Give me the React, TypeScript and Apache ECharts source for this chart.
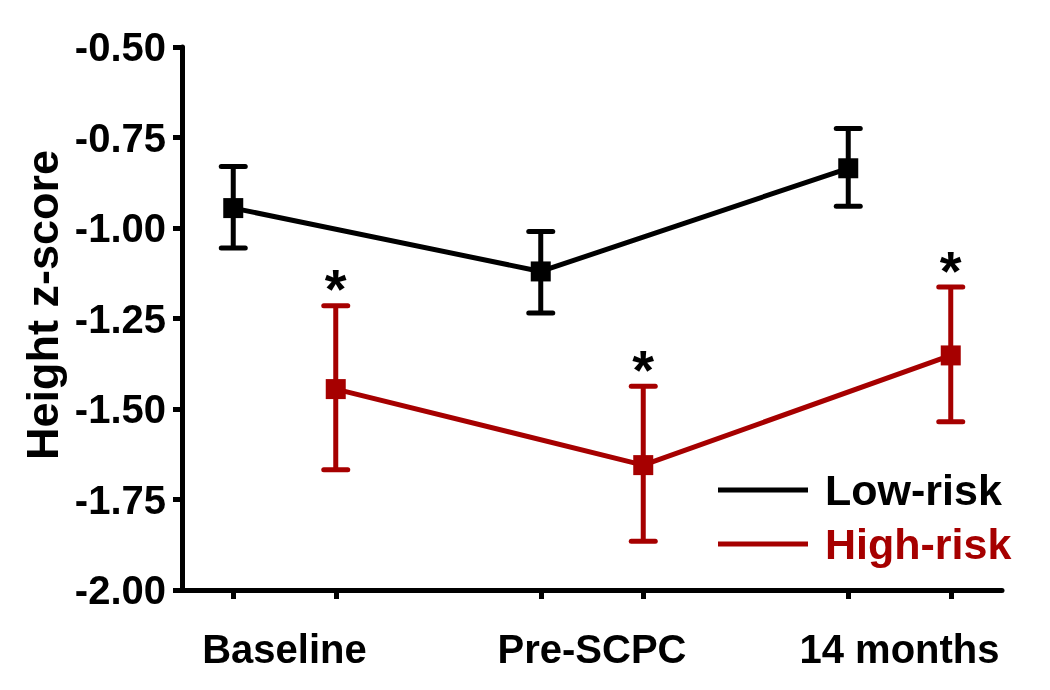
import React, { useEffect, useRef } from "react";
import * as echarts from "echarts";

const timepoints = ["Baseline", "Pre-SCPC", "14 months"];
const lowRiskMean = [-0.945, -1.12, -0.835];
const lowRiskUpper = [-0.83, -1.01, -0.725];
const lowRiskLower = [-1.055, -1.235, -0.94];
const highRiskMean = [-1.445, -1.655, -1.352];
const highRiskUpper = [-1.215, -1.437, -1.163];
const highRiskLower = [-1.668, -1.865, -1.535];
const highRiskSignificant = [true, true, true];
const yTicks = { min: -2.0, max: -0.5, interval: 0.25 };

const FONT = "'Liberation Sans', Arial, sans-serif";
const BLACK = "#000000";
const RED = "#A60000";

export default function App() {
  const ref = useRef<HTMLDivElement>(null);
  useEffect(() => {
    if (!ref.current) return;
    const chart = echarts.init(ref.current, null, { renderer: "svg" });
    const step = 3; // spacing between timepoints on the x scale
    const lowX = timepoints.map((_, i) => i * step);
    const highX = timepoints.map((_, i) => i * step + 1);
    const lowData = lowX.map((x, i) => [x, lowRiskMean[i]]);
    const highData = highX.map((x, i) => [x, highRiskMean[i]]);
    const lowErr = lowX.map((x, i) => [x, lowRiskLower[i], lowRiskUpper[i]]);
    const highErr = highX.map((x, i) => [x, highRiskLower[i], highRiskUpper[i]]);
    const stars = highX
      .map((x, i) => (highRiskSignificant[i] ? [x, highRiskUpper[i]] : null))
      .filter(Boolean);
    const labelPos = timepoints.map((_, i) => i * step + 0.5);
    const tickPos: number[] = [];
    timepoints.forEach((_, i) => tickPos.push(i * step, i * step + 1));

    const errRender = (color: string) => (params: any, api: any) => {
      const x = api.value(0);
      const lo = api.coord([x, api.value(1)]);
      const hi = api.coord([x, api.value(2)]);
      const hw = 12;
      const st = { stroke: color, lineWidth: 5, lineCap: "round" };
      return {
        type: "group",
        children: [
          { type: "line", shape: { x1: lo[0], y1: lo[1], x2: hi[0], y2: hi[1] }, style: { stroke: color, lineWidth: 5 } },
          { type: "line", shape: { x1: lo[0] - hw, y1: lo[1], x2: lo[0] + hw, y2: lo[1] }, style: st },
          { type: "line", shape: { x1: hi[0] - hw, y1: hi[1], x2: hi[0] + hw, y2: hi[1] }, style: st },
        ],
      };
    };

    chart.setOption({
      animation: false,
      grid: { left: 182, right: 48, top: 47, bottom: 100 },
      xAxis: {
        type: "value",
        min: -0.5,
        max: 7.5,
        splitLine: { show: false },
        axisLine: { show: true, onZero: false, lineStyle: { color: BLACK, width: 5 } },
        axisTick: { show: true, customValues: tickPos, length: 9, lineStyle: { color: BLACK, width: 5 } },
        axisLabel: {
          show: true,
          customValues: labelPos,
          margin: 39,
          color: BLACK,
          fontSize: 40,
          fontWeight: "bold",
          fontFamily: FONT,
          formatter: (v: number) => {
            const idx = labelPos.findIndex((p) => Math.abs(p - v) < 1e-6);
            return idx >= 0 ? timepoints[idx] : "";
          },
        },
      },
      yAxis: {
        type: "value",
        min: yTicks.min,
        max: yTicks.max,
        interval: yTicks.interval,
        splitLine: { show: false },
        axisLine: { show: true, onZero: false, lineStyle: { color: BLACK, width: 5 } },
        axisTick: { show: true, length: 9, lineStyle: { color: BLACK, width: 5 } },
        axisLabel: {
          margin: 16,
          color: BLACK,
          fontSize: 40,
          fontWeight: "bold",
          fontFamily: FONT,
          formatter: (v: number) => v.toFixed(2),
        },
      },
      legend: {
        orient: "vertical",
        left: 718,
        top: 466,
        padding: 0,
        itemWidth: 90,
        itemHeight: 5,
        itemGap: 6,
        icon: "rect",
        textStyle: { fontSize: 43, fontWeight: "bold", fontFamily: FONT, lineHeight: 48, padding: [0, 0, 0, 12] },
        data: [
          { name: "Low-risk", textStyle: { color: BLACK } },
          { name: "High-risk", textStyle: { color: RED } },
        ],
      },
      graphic: [
        {
          type: "text",
          x: 42,
          y: 305,
          rotation: Math.PI / 2,
          style: {
            text: "Height z-score",
            font: `bold 45px ${FONT}`,
            fill: BLACK,
            align: "center",
            verticalAlign: "middle",
          },
        },
      ],
      series: [
        {
          name: "Low-risk",
          type: "line",
          data: lowData,
          color: BLACK,
          symbol: "rect",
          symbolSize: 20,
          lineStyle: { color: BLACK, width: 5 },
          itemStyle: { color: BLACK },
          z: 3,
        },
        {
          name: "High-risk",
          type: "line",
          data: highData,
          color: RED,
          symbol: "rect",
          symbolSize: 20,
          lineStyle: { color: RED, width: 5 },
          itemStyle: { color: RED },
          z: 3,
        },
        { type: "custom", data: lowErr, renderItem: errRender(BLACK), z: 2 },
        { type: "custom", data: highErr, renderItem: errRender(RED), z: 2 },
        {
          type: "custom",
          data: stars,
          z: 4,
          renderItem: (params: any, api: any) => {
            const p = api.coord([api.value(0), api.value(1)]);
            return {
              type: "text",
              x: p[0],
              y: p[1] - 17,
              style: {
                text: "*",
                font: `bold 56px ${FONT}`,
                fill: BLACK,
                align: "center",
                verticalAlign: "middle",
              },
            };
          },
        },
      ],
    });
    return () => chart.dispose();
  }, []);
  return <div ref={ref} style={{ position: "fixed", left: 0, top: 0, width: 1050, height: 690 }} />;
}
